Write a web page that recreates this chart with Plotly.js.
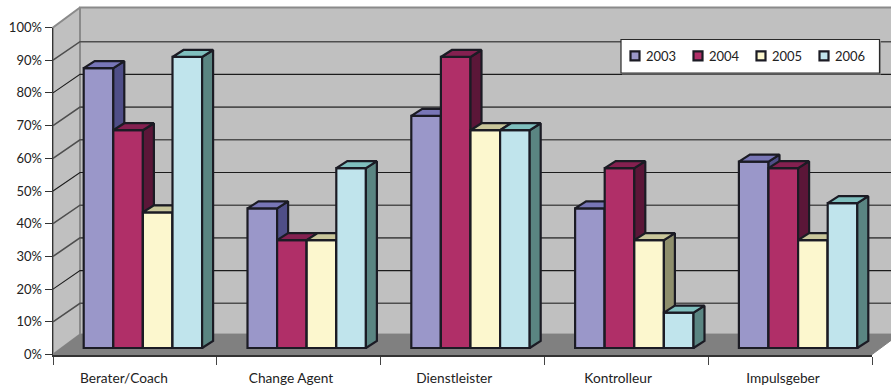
<!DOCTYPE html>
<html>
<head>
<meta charset="utf-8">
<script src="https://cdn.plot.ly/plotly-3.0.1.min.js"></script>
<style>html,body{margin:0;padding:0;background:#fff}#chart{width:891px;height:387px}</style>
</head>
<body>
<div id="chart"></div>
<script>
// Survey shares per role and year
const categories = ['Berater/Coach', 'Change Agent', 'Dienstleister', 'Kontrolleur', 'Impulsgeber'];
const years = ['2003', '2004', '2005', '2006'];
const values2003 = [85.6, 42.7, 71, 42.7, 57];
const values2004 = [66.6, 33, 89, 55, 55];
const values2005 = [41.5, 33, 66.6, 33, 33];
const values2006 = [89, 55, 66.6, 10.8, 44.3];
const tickValues = [0, 10, 20, 30, 40, 50, 60, 70, 80, 90, 100];
const tickLabels = ['0%', '10%', '20%', '30%', '40%', '50%', '60%', '70%', '80%', '90%', '100%'];
const crispGridValues = [20, 50, 80];
const softGridValues = [10, 30, 40, 60, 70, 90];

const seriesValues = [values2003, values2004, values2005, values2006];
const frontColors = ['#9A97C9', '#B02F68', '#FCF7CE', '#C0E4EC'];
const sideColors = ['#4F4E88', '#5B1638', '#8E8E6C', '#5A8582'];
const topColors = ['#7876B6', '#842050', '#C9C69B', '#7FBFBE'];

// Pixel geometry of the oblique projection
const W = 891, H = 387;
const X0 = 53, Y0 = 354.5;
const CAT_W = 163.8, PX_PER_UNIT = 3.27;
const toX = px => px / CAT_W;
const toY = px => px / PX_PER_UNIT;

const wallDx = toX(27), wallDy = toY(20), gridDy = toY(18.5);
const liftDy = toY(6.5);
const barLeft = toX(30.7), barW = toX(29.6);
const depthDx = toX(11), depthDy = toY(7);
const xRange = [-toX(X0), toX(W - X0)];
const yRange = [toY(Y0 - H), toY(Y0)];
const outline = '#1B1B24';

const traces = [];

// Walls and floor
const xEnd = categories.length;
traces.push({
  type: 'scatter', mode: 'lines', fill: 'toself', fillcolor: '#C0C0C0',
  x: [0, wallDx, wallDx, 0, 0, null, wallDx, xEnd + wallDx, xEnd + wallDx, wallDx, wallDx],
  y: [0, wallDy, 100 + wallDy, 100, 0, null, wallDy, wallDy, 100 + wallDy, 100 + wallDy, wallDy],
  line: {color: '#8A8A8A', width: 2}, showlegend: false, hoverinfo: 'skip'
});
traces.push({
  type: 'scatter', mode: 'lines', fill: 'toself', fillcolor: '#808080',
  x: [0, xEnd, xEnd + wallDx, wallDx, 0],
  y: [0, 0, wallDy, wallDy, 0],
  line: {color: '#808080', width: 1}, showlegend: false, hoverinfo: 'skip'
});
function addGrid(levels, color, width) {
  const gridX = [], gridY = [];
  levels.forEach(v => {
    gridX.push(0, wallDx, xEnd + wallDx, null);
    gridY.push(v, v + gridDy, v + gridDy, null);
  });
  traces.push({
    type: 'scatter', mode: 'lines', x: gridX, y: gridY,
    line: {color: color, width: width}, showlegend: false, hoverinfo: 'skip'
  });
}
addGrid(softGridValues, '#4E4E4E', 1.6);
addGrid(crispGridValues, '#1C1C1C', 1.1);

// One overlaid subplot per year, painted left to right so nearer faces hide the sides
seriesValues.forEach((vals, s) => {
  const ax = String(s + 2);
  const xa = 'x' + ax, ya = 'y' + ax;
  const lefts = vals.map((_, c) => c + barLeft + barW * s);
  traces.push({
    type: 'bar', name: years[s], xaxis: xa, yaxis: ya,
    x: lefts.map(l => l + barW / 2), y: vals, base: vals.map(() => liftDy), width: barW,
    marker: {color: frontColors[s], line: {color: outline, width: 2.2}},
    hoverinfo: 'skip'
  });
  const sideX = [], sideY = [], topX = [], topY = [];
  vals.forEach((v, c) => {
    const l = lefts[c], r = l + barW, t = v + liftDy;
    sideX.push(r, r + depthDx, r + depthDx, r, r, null);
    sideY.push(liftDy, liftDy + depthDy, t + depthDy, t, liftDy, null);
    topX.push(l, r, r + depthDx, l + depthDx, l, null);
    topY.push(t, t, t + depthDy, t + depthDy, t, null);
  });
  [[sideX, sideY, sideColors[s]], [topX, topY, topColors[s]]].forEach(([px, py, col]) => {
    traces.push({
      type: 'scatter', mode: 'lines', fill: 'toself', fillcolor: col, x: px, y: py,
      xaxis: xa, yaxis: ya, line: {color: outline, width: 2.2},
      showlegend: false, hoverinfo: 'skip'
    });
  });
});

// Carrier for the visible front axes
const axisTicks = [0, 1, 2, 3, 4, 5];
const labelCentres = [0.433, 1.453, 2.45, 3.45, 4.457];
traces.push({
  type: 'scatter', mode: 'markers', x: labelCentres, y: labelCentres.map(() => 0),
  xaxis: 'x6', yaxis: 'y6', marker: {opacity: 0}, showlegend: false, hoverinfo: 'skip'
});

const fontFamily = 'Lato, "Open Sans", sans-serif';
const layout = {
  width: W, height: H,
  margin: {l: 0, r: 0, t: 0, b: 0},
  paper_bgcolor: '#FFFFFF', plot_bgcolor: 'rgba(0,0,0,0)',
  font: {family: fontFamily, size: 13, color: '#222222'},
  barmode: 'overlay',
  showlegend: true,
  legend: {
    orientation: 'h', x: 606 / W, y: 1 - 41 / H, xanchor: 'left', yanchor: 'top',
    bgcolor: 'rgba(0,0,0,0)', borderwidth: 0,
    entrywidth: 18, entrywidthmode: 'pixels',
    font: {family: fontFamily, size: 13, color: '#222222'}
  },
  xaxis: {domain: [0, 1], range: xRange, visible: false, fixedrange: true},
  yaxis: {domain: [0, 1], range: yRange, visible: false, fixedrange: true},
  xaxis6: {
    domain: [X0 / W, (X0 + CAT_W * categories.length) / W], range: [0, categories.length],
    anchor: 'y6', fixedrange: true, showgrid: false, zeroline: false,
    showline: true, linecolor: '#333333', linewidth: 2,
    tickmode: 'array', tickvals: labelCentres, ticktext: categories, ticks: '',
    ticklabelstandoff: 10, tickfont: {family: fontFamily, size: 13.7, color: '#222222'},
    minor: {tickmode: 'array', tickvals: axisTicks, ticks: 'outside', ticklen: 8, tickwidth: 1, tickcolor: '#444444', showgrid: false}
  },
  yaxis6: {
    domain: [(H - Y0) / H, (H - Y0 + 100 * PX_PER_UNIT) / H], range: [0, 100],
    anchor: 'x6', fixedrange: true, showgrid: false, zeroline: false,
    showline: true, linecolor: '#333333', linewidth: 1.5,
    tickmode: 'array', tickvals: tickValues, ticktext: tickLabels,
    ticks: 'outside', ticklen: 7, tickwidth: 1, tickcolor: '#333333',
    tickfont: {family: fontFamily, size: 13, color: '#222222'}
  },
  // Legend panel with its soft drop edge
  shapes: [
    {type: 'rect', xref: 'paper', yref: 'paper', layer: 'above', x0: 622 / W, x1: 881 / W, y0: 1 - 74.5 / H, y1: 1 - 41 / H,
      fillcolor: '#8C8C8C', line: {width: 0}},
    {type: 'rect', xref: 'paper', yref: 'paper', layer: 'above', x0: 621 / W, x1: 879.5 / W, y0: 1 - 73 / H, y1: 1 - 39.5 / H,
      fillcolor: '#FFFFFF', line: {color: '#2A2A2A', width: 1.2}}
  ]
};
[2, 3, 4, 5].forEach(n => {
  layout['xaxis' + n] = {overlaying: 'x', range: xRange, visible: false, fixedrange: true};
  layout['yaxis' + n] = {overlaying: 'y', range: yRange, visible: false, fixedrange: true};
});

Plotly.newPlot('chart', traces, layout, {displayModeBar: false, staticPlot: true}).then(gd => {
  // Tighter legend keys sitting close to their labels, last label left unclipped
  gd.querySelectorAll('.legend .traces .legendsymbols').forEach(g => {
    g.setAttribute('transform', 'translate(9,0)');
  });
  gd.querySelectorAll('.legend .traces .legendsymbols path').forEach(p => {
    p.setAttribute('d', 'M4.5,4.5H-4.5V-4.5H4.5Z');
  });
  gd.querySelectorAll('.legend .scrollbox, .legend').forEach(g => {
    g.removeAttribute('clip-path');
    g.style.clipPath = '';
  });
});
</script>
</body>
</html>
